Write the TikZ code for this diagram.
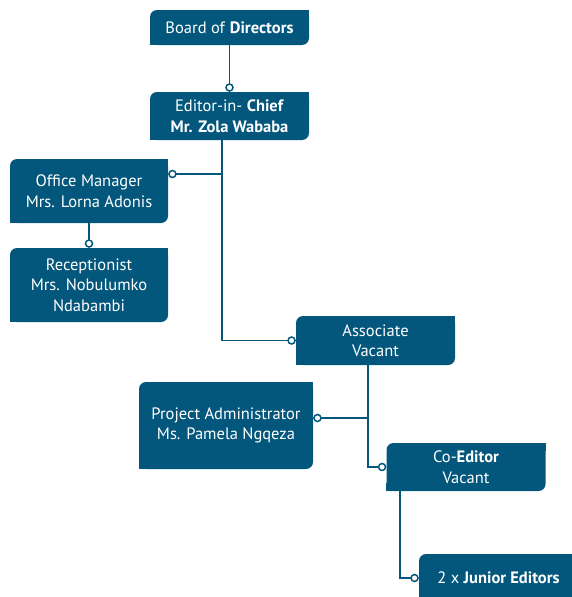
\documentclass[tikz,border=0pt]{standalone}
\usepackage{fontspec}
\setmainfont{PT Sans}
\usetikzlibrary{arrows.meta,positioning}
\definecolor{orgblue}{RGB}{4,87,124}
\tikzset{
  unit/.style={fill=orgblue, text=white, align=center, rounded corners=7pt,
    inner sep=0pt, minimum width=159pt, minimum height=48pt,
    font=\fontsize{16.5}{20.5}\selectfont},
  wire/.style={draw=orgblue, line width=1.5pt},
  pin/.style={wire, -{Circle[open,length=8.5pt,width=8.5pt]}}
}
\begin{document}
\begin{tikzpicture}[x=1pt,y=-1pt]
\useasboundingbox (0,0) rectangle (572,597);
\clip (0,0) rectangle (572,597);
% boxes
\node[unit, minimum height=35pt] (board) at (229.5,27.5) {Board of \textbf{Directors}};
\node[unit] (chief) at (229.5,116) {Editor-in- \textbf{Chief}\\\textbf{Mr. Zola Wababa}};
\node[unit, minimum width=158pt, minimum height=64pt] (office) at (89,191) {Office Manager\\Mrs. Lorna Adonis};
\node[unit, minimum width=158pt, minimum height=74pt] (recep) at (89,285) {Receptionist\\Mrs. Nobulumko\\Ndabambi};
\node[unit, minimum height=49pt] (assoc) at (375.5,340.5) {Associate\\Vacant};
\node[unit, minimum width=174pt, minimum height=87pt] (projadm) at (226,425.5) {Project Administrator\\Ms. Pamela Ngqeza};
\node[unit] (coed) at (466,467) {Co-\textbf{Editor}\\Vacant};
\node[unit] (junior) at (498.5,578) {2 x \textbf{Junior Editors}};
% square corners
\foreach \n in {board,chief,office,recep,assoc,projadm,coed,junior}{
  \fill[orgblue] (\n.north east) rectangle ([xshift=-8pt,yshift=-8pt]\n.north east);
  \fill[orgblue] (\n.south west) rectangle ([xshift=8pt,yshift=8pt]\n.south west);
}
% spines
\coordinate (spineA) at (222,0);
\coordinate (spineB) at (368,0);
\coordinate (spineC) at (400,0);
\coordinate (officepin) at ([yshift=17pt]office.east);
\coordinate (projpin) at ([yshift=7.5pt]projadm.east);
% links
\draw[pin] (board.south) -- (chief.north);
\draw[pin] (spineA |- chief.south) |- (assoc.west);
\draw[pin] (spineA |- officepin) -- (officepin);
\draw[pin] (office.south) -- (recep.north);
\draw[pin] (spineB |- assoc.south) |- (coed.west);
\draw[pin] (spineB |- projpin) -- (projpin);
\draw[pin] (spineC |- coed.south) |- (junior.west);
\end{tikzpicture}
\end{document}
